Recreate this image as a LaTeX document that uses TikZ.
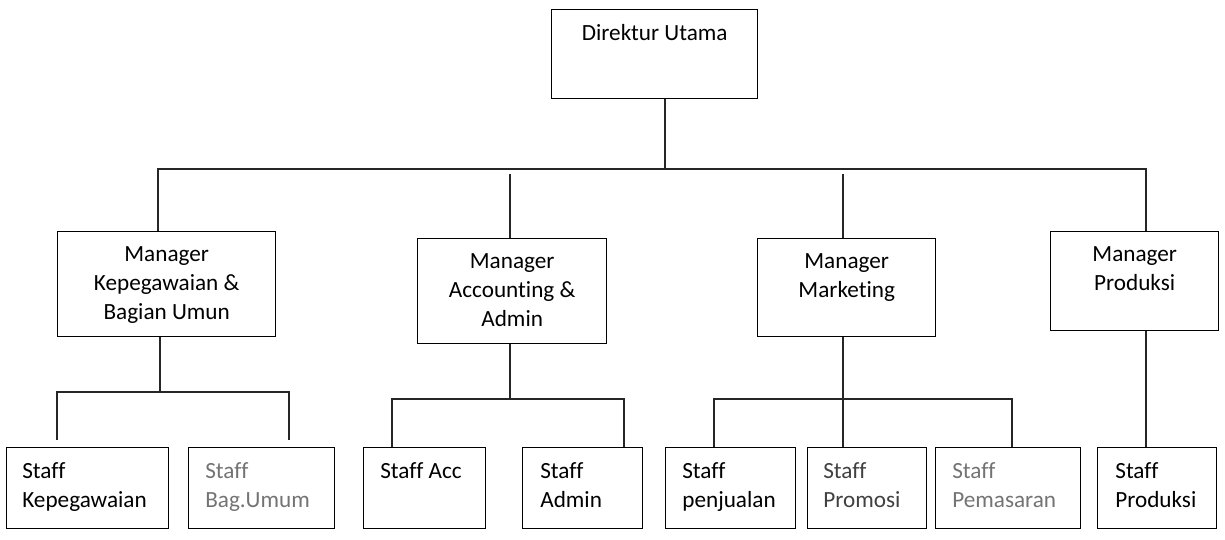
\documentclass[tikz,border=0pt]{standalone}
\usepackage{fontspec}
\setmainfont[Ligatures=NoCommon]{Carlito}
\usetikzlibrary{positioning,calc}
\tikzset{
    bx/.style 2 args={draw, line width=0.8pt, inner sep=0pt, anchor=north west,
        minimum width=#1*0.02cm, minimum height=#2*0.02cm},
    mtxt/.style={anchor=north, align=center, inner sep=0pt,
        font=\fontsize{13.2}{16.3}\selectfont},
    stxt/.style={anchor=north west, align=left, inner sep=0pt,
        font=\fontsize{13.2}{16.3}\selectfont},
    wire/.style={line width=0.7pt, draw=black!85},
}
\begin{document}
\begin{tikzpicture}[x=0.02cm, y=-0.02cm]
    	\useasboundingbox (0,0) rectangle (1225,539);

    	% kotak
    	\node[bx={206}{89}] (dir) at (551,9) {};
    	\node[bx={218}{105}] (mkp) at (57,231) {};
    	\node[bx={189}{105}] (mac) at (417,238) {};
    	\node[bx={178}{98}] (mmk) at (757,238) {};
    	\node[bx={168}{99}] (mpr) at (1050,231) {};

    	\node[bx={162}{81}] (skp) at (6,447) {};
    	\node[bx={146}{81}] (sbu) at (188,447) {};
    	\node[bx={122}{81}] (sac) at (363,447) {};
    	\node[bx={120}{81}] (sad) at (522,447) {};
    	\node[bx={130}{81}] (spj) at (665,447) {};
    	\node[bx={119}{81}] (spr) at (807,447) {};
    	\node[bx={145}{81}] (sps) at (935,447) {};
    	\node[bx={119}{81}] (spd) at (1097,447) {};

    	% teks
    	\node[mtxt, below=0.31cm of dir.north] (tdir) {Direktur Utama};
    	\node[mtxt, below=0.31cm of mkp.north] (tmkp) {Manager\\Kepegawaian \&\\Bagian Umun};
    	\node[mtxt, below=0.31cm of mac.north] (tmac) {Manager\\Accounting \&\\Admin};
    	\node[mtxt, below=0.31cm of mmk.north] (tmmk) {Manager\\Marketing};
    	\node[mtxt, below=0.31cm of mpr.north] (tmpr) {Manager\\Produksi};

    	\node[stxt, below right=0.31cm and 0.32cm of skp.north west] (tskp) {Staff\\Kepegawaian};
    	\node[stxt, text=black!55, below right=0.31cm and 0.34cm of sbu.north west] (tsbu) {Staff\\Bag.Umum};
    	\node[stxt, below right=0.31cm and 0.34cm of sac.north west] (tsac) {Staff Acc};
    	\node[stxt, below right=0.31cm and 0.36cm of sad.north west] (tsad) {Staff\\Admin};
    	\node[stxt, below right=0.31cm and 0.34cm of spj.north west] (tspj) {Staff\\penjualan};
    	\node[stxt, text=black!75, below right=0.31cm and 0.32cm of spr.north west] (tspr) {Staff\\Promosi};
    	\node[stxt, text=black!55, below right=0.31cm and 0.34cm of sps.north west] (tsps) {Staff\\Pemasaran};
    	\node[stxt, below right=0.31cm and 0.36cm of spd.north west] (tspd) {Staff\\Produksi};

    	% garis atas
    	\coordinate (bus) at (665,169);
    	\coordinate (b1) at (158,169);
    	\coordinate (b4) at (1146,169);
    	\coordinate (c2) at (510,174);
    	\coordinate (c3) at (843,174);
    	\draw[wire] (dir.south -| bus) -- (bus);
    	\draw[wire] (mkp.north -| b1) -- (b1) -- (b4) -- (mpr.north -| b4);
    	\draw[wire] (c2) -- (mac.north -| c2);
    	\draw[wire] (c3) -- (mmk.north -| c3);

    	% garis bawah
    	\coordinate (g1) at (160,392);
    	\coordinate (g1a) at (57,440);
    	\coordinate (g1b) at (289,440);
    	\draw[wire] (mkp.south -| g1) -- (g1);
    	\draw[wire] (g1a) |- (g1) -| (g1b);

    	\coordinate (g2) at (510,399);
    	\coordinate (g2a) at (392,399);
    	\coordinate (g2b) at (624,399);
    	\draw[wire] (mac.south -| g2) -- (g2);
    	\draw[wire] (sac.north -| g2a) -- (g2a) -- (g2b) -- (sad.north -| g2b);

    	\coordinate (g3) at (843,399);
    	\coordinate (g3a) at (714,399);
    	\coordinate (g3b) at (1012,399);
    	\draw[wire] (mmk.south -| g3) -- (spr.north -| g3);
    	\draw[wire] (spj.north -| g3a) -- (g3a) -- (g3b) -- (sps.north -| g3b);

    	\coordinate (g4) at (1146,400);
    	\draw[wire] (mpr.south -| g4) -- (spd.north -| g4);
    \end{tikzpicture}
\end{document}
